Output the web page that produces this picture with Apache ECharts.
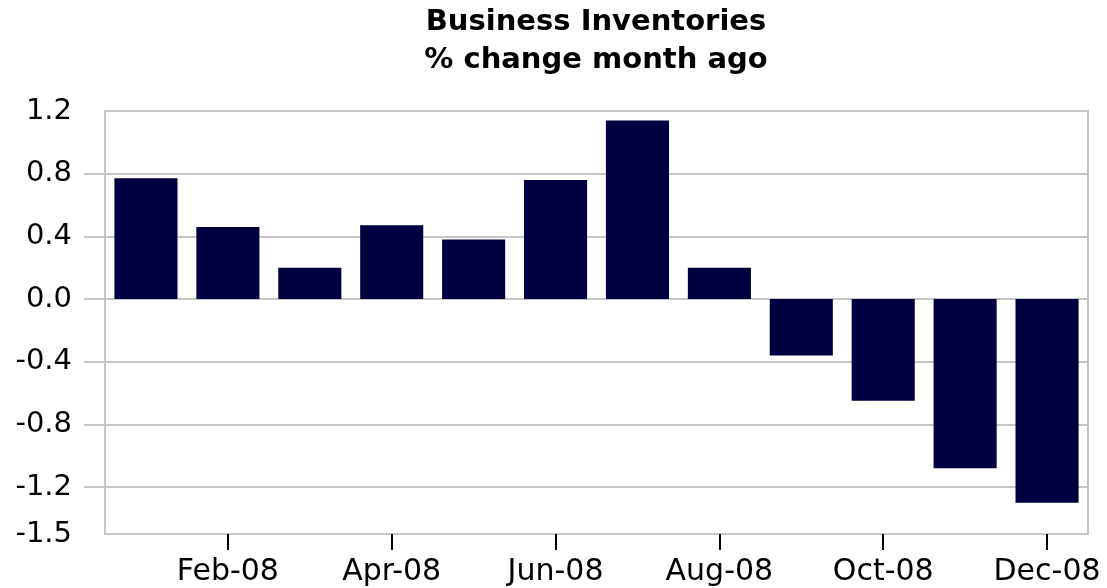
<!DOCTYPE html>
<html>
<head>
<meta charset="utf-8">
<script src="https://cdn.jsdelivr.net/npm/echarts@6/dist/echarts.min.js"></script>
<style>
html,body{margin:0;padding:0;background:#fff;}
#chart{width:1107px;height:588px;}
</style>
</head>
<body>
<div id="chart"></div>
<script>
const categories = ['Jan-08','Feb-08','Mar-08','Apr-08','May-08','Jun-08','Jul-08','Aug-08','Sep-08','Oct-08','Nov-08','Dec-08'];
const values = [0.77, 0.46, 0.20, 0.47, 0.38, 0.76, 1.14, 0.20, -0.36, -0.65, -1.08, -1.30];
const yLabelValues = [-1.5, -1.2, -0.8, -0.4, 0, 0.4, 0.8, 1.2];
const yGridValues = [-1.2, -0.8, -0.4, 0, 0.4, 0.8];
const titleText = 'Business Inventories\n% change month ago';

const chart = echarts.init(document.getElementById('chart'), null, {renderer:'canvas'});
const font = 'DejaVu Sans';
chart.setOption({
  animation: false,
  backgroundColor: '#ffffff',
  title: {
    text: titleText,
    left: 596,
    textAlign: 'center',
    top: 3,
    padding: 0,
    textStyle: {fontFamily: font, fontWeight: 'bold', fontSize: 29, color: '#000', lineHeight: 38}
  },
  grid: {left: 105, right: 19, top: 111, bottom: 54, show: true, borderColor: '#c6c6c6', borderWidth: 2, containLabel: false},
  xAxis: {
    type: 'category',
    data: categories,
    boundaryGap: true,
    axisLine: {show: false, onZero: false},
    axisTick: {show: true, alignWithLabel: true, length: 16, interval: (i) => i % 2 === 1, lineStyle: {color: '#000', width: 2}},
    axisLabel: {interval: (i) => i % 2 === 1, margin: 23, fontFamily: font, fontSize: 30, color: '#000'},
    splitLine: {show: false}
  },
  yAxis: {
    type: 'value',
    min: -1.5,
    max: 1.2,
    interval: 0.1,
    axisLine: {show: false},
    axisTick: {show: true, length: 21, customValues: yGridValues, lineStyle: {color: '#c6c6c6', width: 2}},
    axisLabel: {customValues: yLabelValues, margin: 33, fontFamily: font, fontSize: 29, color: '#000',
      formatter: (v) => v.toFixed(1)},
    splitLine: {show: true, lineStyle: {color: '#c6c6c6', width: 2}}
  },
  series: [{
    type: 'bar',
    data: values,
    barCategoryGap: '23%',
    itemStyle: {color: '#000040'},
    silent: true
  }]
});
</script>
</body>
</html>
